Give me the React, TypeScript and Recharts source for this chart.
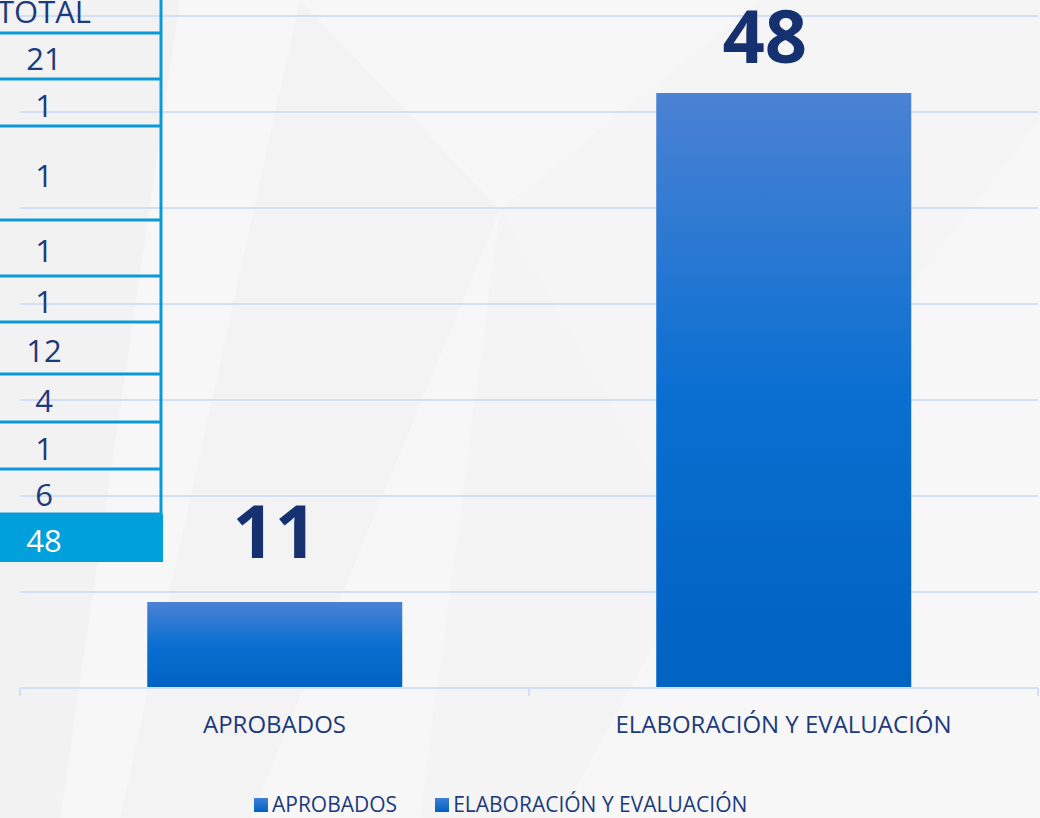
import React from 'react';
import { BarChart, Bar, XAxis, YAxis, CartesianGrid, Cell, LabelList, Legend } from 'recharts';

const categories = ['APROBADOS', 'ELABORACIÓN Y EVALUACIÓN'];
const values = [11, 48];
const yTicks = [4.75, 11.73, 18.71, 25.69, 32.66, 39.64, 46.62, 53.6];
const tableHeader = 'TOTAL';
const tableValues = ['21', '1', '1', '1', '1', '12', '4', '1', '6'];
const tableTotal = '48';
const tableRowEdges = [0, 33, 79, 126, 220, 276, 322, 374, 422, 469, 514, 562];

const data = categories.map((c, i) => ({ name: c, value: values[i] }));

const W = 1040;
const H = 818;
const M = { top: 16, right: 2, left: 20, bottom: 70 };
const BAND_HALF = (W - M.left - M.right) / (categories.length * 2);

const NAVY = '#1d3a7c';
const LABEL_NAVY = '#15316f';
const GRID = '#d3def9';
const TABLE_LINE = '#0a9ad8';
const FONT = "'Open Sans', 'Noto Sans', sans-serif";

const labelDx = [0, -19];
const labelGap = [44, 30];

const renderLabel = (p: any) => {
  const { x, y, width, value } = p;
  const idx = p.index != null ? p.index : values.indexOf(Number(value));
  return (
    <text
      x={Number(x) + Number(width) / 2 + (labelDx[idx] || 0)}
      y={Number(y) - (labelGap[idx] || 36)}
      textAnchor="middle"
      fontSize={74}
      fontWeight={700}
      fill={LABEL_NAVY}
      fontFamily={FONT}
    >
      {value}
    </text>
  );
};

const renderTick = (p: any) => {
  const { x, y, payload } = p;
  return (
    <g>
      <line x1={x - BAND_HALF} y1={y} x2={x - BAND_HALF} y2={y + 8} stroke={GRID} strokeWidth={2} />
      <line x1={x + BAND_HALF} y1={y} x2={x + BAND_HALF} y2={y + 8} stroke={GRID} strokeWidth={2} />
      <text x={x} y={y + 45} textAnchor="middle" fontSize={24} fill={NAVY} fontFamily={FONT}>
        {payload.value}
      </text>
    </g>
  );
};

const renderLegend = () => (
  <div
    style={{
      position: 'absolute',
      left: 254,
      top: 0,
      display: 'flex',
      alignItems: 'center',
      fontFamily: FONT,
      fontSize: 21,
      lineHeight: '21px',
      color: NAVY,
      whiteSpace: 'nowrap',
    }}
  >
    {categories.map((c, i) => (
      <div key={c} style={{ display: 'flex', alignItems: 'center', marginRight: i === 0 ? 38 : 0 }}>
        <div
          style={{
            width: 14,
            height: 14,
            flexShrink: 0,
            marginRight: 4,
            background: 'linear-gradient(#3f7fd6, #0062c1)',
          }}
        />
        <span>{c}</span>
      </div>
    ))}
  </div>
);

const Background = () => (
  <svg width={W} height={H} style={{ position: 'absolute', left: 0, top: 0 }}>
    <rect x={0} y={0} width={W} height={H} fill="#f7f7f7" />
    <polygon points="0,0 180,0 60,818 0,818" fill="#ececec" opacity={0.45} />
    <polygon points="300,0 500,210 250,818 120,818" fill="#eeeeee" opacity={0.4} />
    <polygon points="500,210 760,0 1040,0 1040,120 700,560" fill="#f3f3f3" opacity={0.5} />
    <polygon points="500,210 700,560 560,818 420,818" fill="#f1f1f1" opacity={0.4} />
  </svg>
);

const Table = () => {
  const rows = [tableHeader, ...tableValues, tableTotal];
  return (
    <svg width={170} height={570} style={{ position: 'absolute', left: 0, top: 0 }}>
      <rect x={0} y={514} width={163} height={48} fill="#00a0dc" />
      {tableRowEdges.slice(1, tableRowEdges.length - 1).map((e) => (
        <line key={e} x1={0} y1={e} x2={162} y2={e} stroke={TABLE_LINE} strokeWidth={3} />
      ))}
      <line x1={161} y1={0} x2={161} y2={514} stroke={TABLE_LINE} strokeWidth={3} />
      {rows.map((r, i) => {
        const top = tableRowEdges[i];
        const bottom = tableRowEdges[i + 1];
        const base = i === 0 ? 23 : (top + bottom) / 2 + 14;
        return (
          <text
            key={i}
            x={44}
            y={base}
            textAnchor="middle"
            fontSize={31}
            fill={i === rows.length - 1 ? '#ffffff' : NAVY}
            fontFamily={FONT}
          >
            {r}
          </text>
        );
      })}
    </svg>
  );
};

export default function App() {
  return (
    <div style={{ position: 'absolute', left: 0, top: 0, width: W, height: H, overflow: 'hidden' }}>
      <Background />
      <div style={{ position: 'absolute', left: 0, top: 0 }}>
        <BarChart width={W} height={H} data={data} margin={M} barCategoryGap="25%">
          <defs>
            <linearGradient id="barGrad" x1="0" y1="0" x2="0" y2="1">
              <stop offset="0%" stopColor="#4b82d4" />
              <stop offset="50%" stopColor="#0a6fd1" />
              <stop offset="100%" stopColor="#0062c1" />
            </linearGradient>
          </defs>
          <CartesianGrid vertical={false} stroke={GRID} strokeWidth={2} />
          <YAxis hide domain={[4.75, 53.6]} ticks={yTicks} allowDataOverflow />
          <XAxis
            dataKey="name"
            height={60}
            axisLine={{ stroke: GRID, strokeWidth: 2 }}
            tickLine={false}
            tickSize={0}
            tickMargin={0}
            interval={0}
            tick={renderTick}
          />
          <Legend
            content={renderLegend}
            wrapperStyle={{ position: 'absolute', left: 0, top: 794, width: W, height: 0, overflow: 'visible' }}
          />
          <Bar dataKey="value" fill="url(#barGrad)" isAnimationActive={false}>
            {data.map((d) => (
              <Cell key={d.name} fill="url(#barGrad)" />
            ))}
            <LabelList dataKey="value" content={renderLabel} />
          </Bar>
        </BarChart>
      </div>
      <Table />
    </div>
  );
}
